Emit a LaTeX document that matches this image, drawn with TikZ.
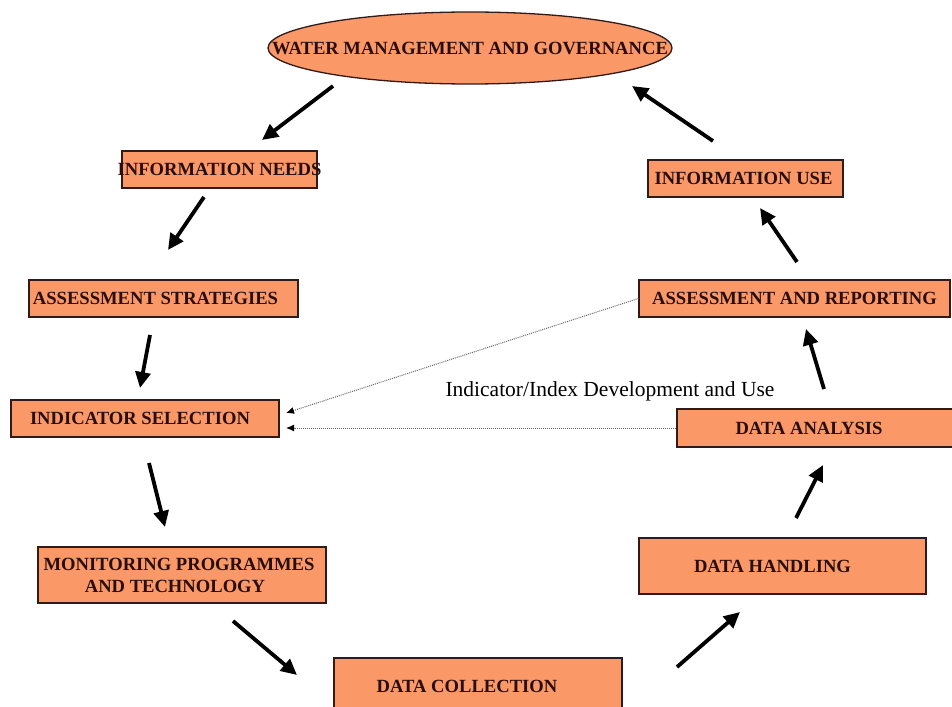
\documentclass[tikz,border=0pt]{standalone}
\usepackage{fontspec}
\setmainfont{Liberation Serif}
\usetikzlibrary{arrows.meta,shapes.geometric}
\definecolor{stagefill}{RGB}{250,152,104}
\definecolor{stageline}{RGB}{50,26,24}
\definecolor{stagetext}{RGB}{40,14,14}
\definecolor{linkgray}{RGB}{105,105,105}
\begin{document}
\begin{tikzpicture}[x=1pt,y=-1pt,
  stage/.style={rectangle, draw=stageline, fill=stagefill, line width=1.3pt,
    inner sep=0pt, text=stagetext, font=\bfseries\fontsize{18.6}{22}\selectfont},
  flow/.style={line width=3.8pt, -{Triangle[length=16pt,width=15pt]}},
  link/.style={linkgray, line width=1pt, densely dotted,
    -{Latex[length=8pt,width=7pt,color=black]}}]
\useasboundingbox (0,0) rectangle (952,706);

% stages of the cycle
\node[stage, ellipse, minimum width=404pt, minimum height=72pt] (wmg) at (470,48)
  {\makebox[0pt]{WATER MANAGEMENT AND GOVERNANCE}};
\node[stage, minimum width=195pt, minimum height=37pt] (needs) at (219.5,169.5)
  {\makebox[0pt]{INFORMATION NEEDS}};
\node[stage, minimum width=195pt, minimum height=37pt] (use) at (745.5,178.5)
  {\makebox[0pt]{\kern-4pt INFORMATION USE}};
\node[stage, minimum width=269pt, minimum height=37pt] (strat) at (163.5,298.5)
  {\makebox[0pt]{\kern-16pt ASSESSMENT STRATEGIES}};
\node[stage, minimum width=311pt, minimum height=37pt] (report) at (794.5,298.5)
  {\makebox[0pt]{ASSESSMENT AND REPORTING}};
\node[stage, minimum width=268pt, minimum height=37pt] (select) at (145,418.5)
  {\makebox[0pt]{\kern-10pt INDICATOR SELECTION}};
\node[stage, minimum width=278pt, minimum height=38pt] (analysis) at (816,428)
  {\makebox[0pt]{\kern-14pt DATA ANALYSIS}};
\node[stage, minimum width=288pt, minimum height=56pt, align=center] (monitor) at (182,575)
  {\makebox[0pt]{\kern-6pt MONITORING PROGRAMMES}\\\makebox[0pt]{\kern-14pt AND TECHNOLOGY}};
\node[stage, minimum width=287pt, minimum height=56pt] (handling) at (782.5,566)
  {\makebox[0pt]{\kern-20pt DATA HANDLING}};
\node[stage, minimum width=288pt, minimum height=56pt] (collect) at (478,686)
  {\makebox[0pt]{\kern-22pt DATA COLLECTION}};

% ends of the flow arrows
\coordinate (a1s) at (333,86);  \coordinate (a1e) at (262,140);
\coordinate (a2s) at (204,197); \coordinate (a2e) at (168,250);
\coordinate (a3s) at (150,335); \coordinate (a3e) at (140,388);
\coordinate (a4s) at (149,463); \coordinate (a4e) at (165,527);
\coordinate (a5s) at (233,621); \coordinate (a5e) at (297,675);
\coordinate (a6s) at (677,667); \coordinate (a6e) at (740,612);
\coordinate (a7s) at (796,518); \coordinate (a7e) at (823,465);
\coordinate (a8s) at (824,389); \coordinate (a8e) at (806,329);
\coordinate (a9s) at (797,262); \coordinate (a9e) at (760,208);
\coordinate (a10s) at (713,141); \coordinate (a10e) at (632,86);

\foreach \k in {1,...,10} \draw[flow] (a\k s) -- (a\k e);

% feedback to indicator selection
\coordinate (fbA) at (286,413);
\coordinate (fbB) at (286,428);
\draw[link] (report.west) -- (fbA);
\draw[link] (analysis.west) -- (fbB);
\node[font=\fontsize{21.5}{24}\selectfont, inner sep=0pt] (idx) at (610,391)
  {Indicator/Index Development and Use};
\end{tikzpicture}
\end{document}
